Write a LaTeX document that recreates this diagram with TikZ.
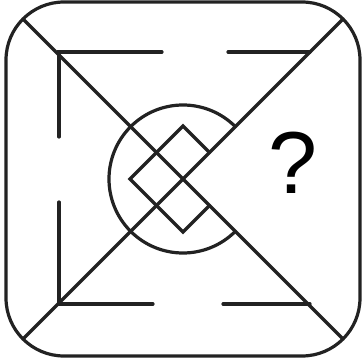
\documentclass[tikz,border=0pt]{standalone}
\usepackage{fontspec}
\setmainfont{Liberation Sans}
\definecolor{ink}{HTML}{222222}
\begin{document}
\begin{tikzpicture}[x=1pt,y=1pt,
  stroke/.style={draw=ink,line width=3.2pt,line cap=round,line join=miter}]
\useasboundingbox (0,0) rectangle (362,362);
% frame
\draw[stroke,rounded corners=58pt] (6,6) rectangle (360,360);
% diagonals
\coordinate (tl) at (23,343);
\coordinate (tr) at (343,343);
\coordinate (bl) at (23,23);
\coordinate (br) at (343,23);
\coordinate (c) at (183,183);
\draw[stroke] (tl) -- (br);
\draw[stroke] (tr) -- (bl);
% open circle (left part)
\draw[stroke] (c) ++(45:74) arc[start angle=45,end angle=315,radius=74];
% open diamond
\draw[stroke] (209.5,209.5) -- (183,236) -- (130,183) -- (183,130) -- (209.5,156.5);
% corner segments
\draw[stroke] (162,310) -- (59,310) -- (59,225);
\draw[stroke] (228,310) -- (310,310);
\draw[stroke] (59,160) -- (59,58) -- (153,58);
\draw[stroke] (223,58) -- (310,58);
% question mark
\node[inner sep=0pt,font=\fontsize{88}{88}\selectfont] (q) at (293,199) {?};
\end{tikzpicture}
\end{document}
